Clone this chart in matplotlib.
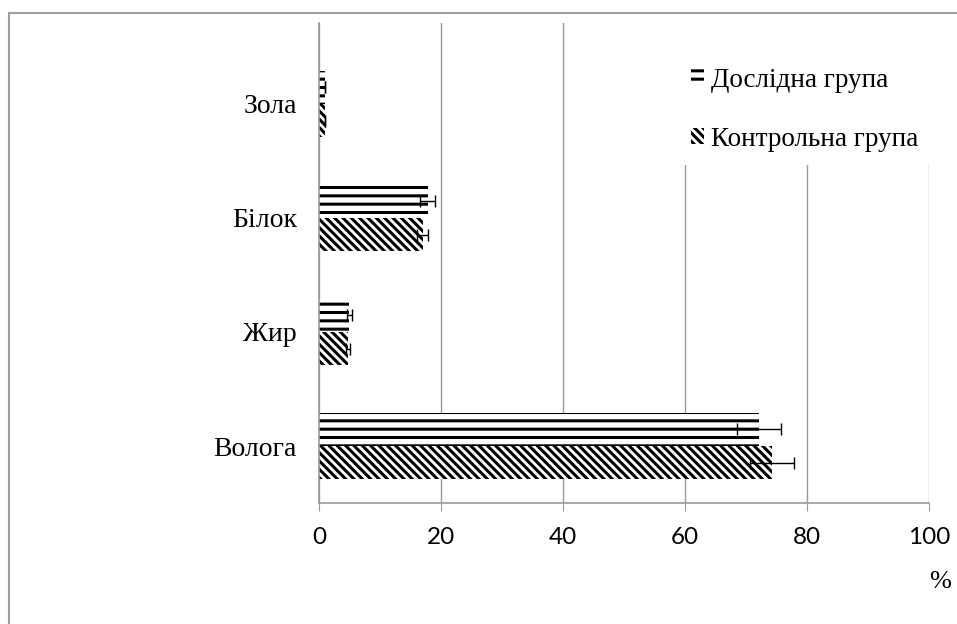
import matplotlib.pyplot as plt
import matplotlib.patches as mpatches
import numpy as np

# composition, % (bottom to top)
categories = ["Волога", "Жир", "Білок", "Зола"]
dosl = [72.1, 5.0, 17.8, 1.0]
dosl_err = [3.6, 0.4, 1.2, 0.05]
kontr = [74.3, 4.8, 17.0, 1.0]
kontr_err = [3.6, 0.3, 0.9, 0.05]
xticks = [0, 20, 40, 60, 80, 100]

plt.rcParams["hatch.linewidth"] = 2.2
serif = ["Liberation Serif", "DejaVu Serif"]

fig = plt.figure(figsize=(9.57, 6.24), dpi=100)
ax = fig.add_axes([0.3333, 0.1939, 0.6374, 0.7692])

y = np.arange(len(categories))
h = 0.29
grid_c = "#9a9a9a"

ax.barh(y + h / 2, dosl, height=h, color="white", edgecolor="black",
        linewidth=0, hatch="--", label="Дослідна група", zorder=2)
ax.barh(y - h / 2, kontr, height=h, color="white", edgecolor="black",
        linewidth=0, hatch="\\\\\\\\", label="Контрольна група", zorder=2)
ax.errorbar(dosl, y + h / 2, xerr=dosl_err, fmt="none", ecolor="black",
            elinewidth=1, capsize=4, capthick=1, zorder=3)
ax.errorbar(kontr, y - h / 2, xerr=kontr_err, fmt="none", ecolor="black",
            elinewidth=1, capsize=4, capthick=1, zorder=3)

ax.set_xlim(0, 100)
ax.set_ylim(-0.5, 3.71)
ax.set_xticks(xticks)
ax.set_yticks(y)
ax.set_yticklabels(categories, family=serif, fontsize=20)
ax.tick_params(axis="y", length=0, pad=16)
ax.tick_params(axis="x", length=6, color=grid_c, pad=11, labelsize=17.5)
for lbl in ax.get_xticklabels():
    lbl.set_family(["Lato", "DejaVu Sans"])
ax.xaxis.grid(True, color=grid_c, linewidth=1, zorder=0)
ax.set_axisbelow(True)
for side in ["top", "right"]:
    ax.spines[side].set_visible(False)
for side in ["left", "bottom"]:
    ax.spines[side].set_color(grid_c)
    ax.spines[side].set_linewidth(1.2)

# white area behind the legend hides the upper part of the grid
ax.add_patch(mpatches.Rectangle((0.575, 0.704), 0.5, 0.3, transform=ax.transAxes,
                                facecolor="white", edgecolor="none",
                                zorder=1, clip_on=False))

leg = fig.legend(*ax.get_legend_handles_labels(), loc="upper left",
                 bbox_to_anchor=(0.722, 0.891),
                 prop={"family": serif, "size": 19.5}, frameon=False,
                 handlelength=0.5, handleheight=0.55, handletextpad=0.25,
                 labelspacing=1.25, borderpad=0, borderaxespad=0)

fig.text(0.982, 0.068, "%", family=serif, fontsize=19, ha="center", va="center")

# outer frame, runs off the right and bottom edges
fig.patches.append(mpatches.Rectangle((0.009, -0.05), 1.2, 1.029,
                                      transform=fig.transFigure, fill=False,
                                      edgecolor="#a0a0a0", linewidth=1.5))

fig.savefig("out.png", dpi=100)
